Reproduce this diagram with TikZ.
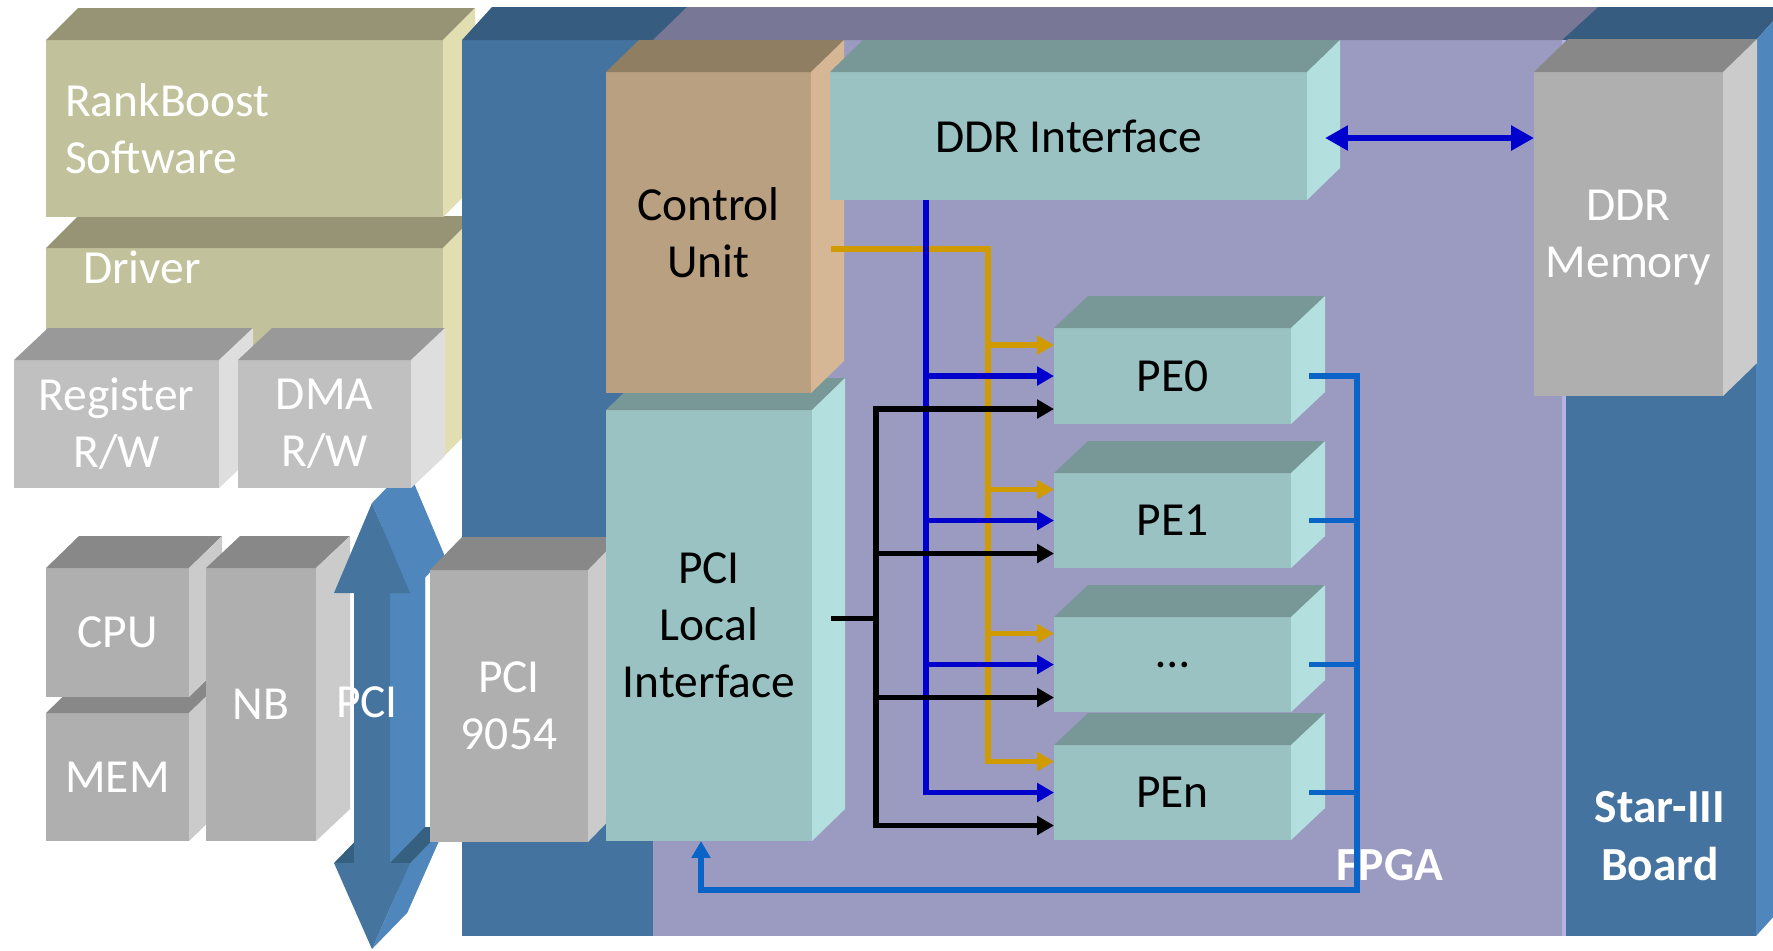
\documentclass[tikz,border=0pt]{standalone}
\usepackage{fontspec}
\setmainfont{Carlito}
\usetikzlibrary{calc,arrows.meta}

% face colours: F = front, T = top, S = side
\definecolor{oliveF}{HTML}{C1C19B}
\definecolor{oliveT}{HTML}{969474}
\definecolor{oliveS}{HTML}{E1DFB1}
\definecolor{regF}{HTML}{C0C0C0}
\definecolor{regT}{HTML}{999999}
\definecolor{regS}{HTML}{DEDEDE}
\definecolor{grayF}{HTML}{AFAFAF}
\definecolor{grayT}{HTML}{888888}
\definecolor{grayS}{HTML}{CBCBCB}
\definecolor{boardF}{HTML}{44739F}
\definecolor{boardT}{HTML}{365D7F}
\definecolor{boardS}{HTML}{4F86BB}
\definecolor{fpgaF}{HTML}{9B9BC2}
\definecolor{fpgaT}{HTML}{787896}
\definecolor{fpgaS}{HTML}{B4B4E4}
\definecolor{ctrlF}{HTML}{B9A080}
\definecolor{ctrlT}{HTML}{8F7E62}
\definecolor{ctrlS}{HTML}{D5B795}
\definecolor{tealF}{HTML}{9BC2C2}
\definecolor{tealT}{HTML}{789897}
\definecolor{tealS}{HTML}{B3DFDF}
\definecolor{busF}{HTML}{45749F}
\definecolor{busL}{HTML}{4F87BC}
\definecolor{busD}{HTML}{36607F}
\definecolor{ddrblue}{HTML}{0000CC}
\definecolor{ctrlgold}{HTML}{D09B00}
\definecolor{retblue}{HTML}{0A64C8}

% front face of a block, given by its corners (x0,y0) and (x1,y1)
\newcommand\facebox[6]{\node[#2, minimum width={(#5-#3)*0.01cm}, minimum height={(#6-#4)*0.01cm}] (#1) at ({(#3+#5)/2},{(#4+#6)/2})}
% top and right faces of a block, extruded by the depth vector #4
\newcommand\cubefaces[4]{%
  \fill[#2] (#1.north west) -- ++(#4) -- ($(#1.north east)+(#4)$) -- (#1.north east) -- cycle;
  \fill[#3] (#1.north east) -- ++(#4) -- ($(#1.south east)+(#4)$) -- (#1.south east) -- cycle;}

\begin{document}
\begin{tikzpicture}[x=0.01cm, y=-0.01cm,
  face/.style={rectangle, inner sep=0pt, outer sep=0pt, draw=none, align=center,
               font=\fontsize{13.5}{16.2}\selectfont},
  olivebox/.style={face, fill=oliveF, text=white},
  regbox/.style={face, fill=regF, text=white},
  graybox/.style={face, fill=grayF, text=white},
  tealbox/.style={face, fill=tealF, text=black},
  ctrlbox/.style={face, fill=ctrlF, text=black},
  boardbox/.style={face, fill=boardF},
  fpgabox/.style={face, fill=fpgaF},
  wlabel/.style={inner sep=0pt, outer sep=0pt, text=white, font=\fontsize{13.5}{16.2}\selectfont},
  boldlabel/.style={inner sep=0pt, outer sep=0pt, text=white, align=center,
                   font=\bfseries\fontsize{13.5}{16.5}\selectfont},
  wire/.style={line width=1.6pt},
  tip/.style={-{Triangle[length=4.8pt,width=5.2pt]}},
  ctrlwire/.style={wire, ctrlgold},
  ddrwire/.style={wire, ddrblue},
  pciwire/.style={wire, black},
  retwire/.style={wire, retblue},
]
\useasboundingbox (0,0) rectangle (1773,950);
\fill[white] (0,0) rectangle (1773,950);
\clip (0,0) rectangle (1773,950);

% ---------------- host software stack ----------------
\facebox{driver}{olivebox}{46}{248}{443}{457}{};
\cubefaces{driver}{oliveT}{oliveS}{32,-32}
\node[wlabel, anchor=base west] (drvlabel) at (83,283) {Driver};

\facebox{rank}{olivebox, text width={(397-38)*0.01cm}, align=left}{46}{40}{443}{217}{RankBoost\\Software};
\cubefaces{rank}{oliveT}{oliveS}{32,-32}

% ---------------- Star-III board and FPGA ----------------
\facebox{board}{boardbox}{462}{40}{1756}{936}{};
\cubefaces{board}{boardT}{boardS}{30,-33}
\facebox{fpga}{fpgabox}{653}{40}{1562}{936}{};
\fill[fpgaT] (fpga.north west) -- ++(34,-33) -- ($(fpga.north east)+(36,-33)$) -- (fpga.north east) -- cycle;
\fill[fpgaS] (fpga.north east) rectangle ($(fpga.south east)+(4,0)$);

% ---------------- host hardware ----------------
\facebox{mem}{graybox}{46}{713}{189}{841}{MEM};
\cubefaces{mem}{grayT}{grayS}{33,-32}
\facebox{cpu}{graybox}{46}{568}{189}{697}{CPU};
\cubefaces{cpu}{grayT}{grayS}{33,-32}
\facebox{nb}{graybox}{206}{568}{316}{841}{NB};
\cubefaces{nb}{grayT}{grayS}{34,-32}

% PCI bus: extruded double arrow
\begin{scope}[shift={(35,-36)}]
  \fill[busL] (372,503) -- (410,593) -- (390,593) -- (390,863) -- (410,863) -- (372,949)
        -- (334,863) -- (354,863) -- (354,593) -- (334,593) -- cycle;
\end{scope}
\fill[busL] (372,503) -- (410,593) -- (445,557) -- (407,467) -- cycle;
\fill[busL] (390,593) -- (390,863) -- (425,827) -- (425,557) -- cycle;
\fill[busL] (410,863) -- (372,949) -- (407,913) -- (445,827) -- cycle;
\fill[busD] (390,863) -- (410,863) -- (445,827) -- (425,827) -- cycle;
\fill[busD] (334,863) -- (354,863) -- (389,827) -- (369,827) -- cycle;
\fill[busF] (372,503) -- (410,593) -- (390,593) -- (390,863) -- (410,863) -- (372,949)
      -- (334,863) -- (354,863) -- (354,593) -- (334,593) -- cycle;
\node[wlabel, anchor=base] (pcilabel) at (367,717) {PCI};

\facebox{reg}{regbox}{14}{360}{219}{488}{Register\\R/W};
\cubefaces{reg}{regT}{regS}{34,-32}
\facebox{dma}{regbox}{238}{360}{411}{488}{DMA\\R/W};
\cubefaces{dma}{regT}{regS}{34,-32}

\facebox{plx}{graybox}{430}{570}{588}{842}{PCI\\9054};
\cubefaces{plx}{grayT}{grayS}{32,-33}

% ---------------- FPGA blocks ----------------
\facebox{pcil}{tealbox}{606}{410}{812}{841}{PCI\\Local\\Interface};
\cubefaces{pcil}{tealT}{tealS}{33,-32}
\facebox{ctrl}{ctrlbox}{606}{72}{811}{393}{Control\\Unit};
\cubefaces{ctrl}{ctrlT}{ctrlS}{33,-32}
\facebox{ddrif}{tealbox}{830}{72}{1307}{200}{DDR Interface};
\cubefaces{ddrif}{tealT}{tealS}{33,-32}

\facebox{pe0}{tealbox}{1054}{328}{1291}{424}{PE0};
\cubefaces{pe0}{tealT}{tealS}{34,-32}
\facebox{pe1}{tealbox}{1054}{473}{1291}{568}{PE1};
\cubefaces{pe1}{tealT}{tealS}{34,-32}
\facebox{pe2}{tealbox}{1054}{617}{1291}{712}{…};
\cubefaces{pe2}{tealT}{tealS}{34,-32}
\facebox{pen}{tealbox}{1054}{745}{1291}{840}{PEn};
\cubefaces{pen}{tealT}{tealS}{34,-32}

\facebox{ddrmem}{graybox, text depth=0pt}{1534}{72}{1723}{396}{DDR\\Memory};
\cubefaces{ddrmem}{grayT}{grayS}{34,-33}

\node[boldlabel, anchor=base] (fpgalabel) at (1390,880) {FPGA};
\node[boldlabel] (boardlabel) at (1660,836) {Star-III\\Board};

% ---------------- connections ----------------
\foreach \p in {pe0,pe1,pe2,pen} {
  \coordinate (\p g) at ($(\p.west)+(0,-31)$);
  \coordinate (\p k) at ($(\p.west)+(0,33)$);
}

% control unit -> PEs
\coordinate (gS) at ($(ctrl.east)+(20,16.5)$);
\coordinate (gX) at ($(gS)+(157,0)$);
\draw[ctrlwire, tip] (gS) -- (gX) |- (peng);
\foreach \p in {pe0,pe1,pe2} \draw[ctrlwire, tip] (gX |- \p g) -- (\p g);

% DDR interface -> PEs
\coordinate (bS) at ($(ddrif.south west)+(96,0)$);
\draw[ddrwire, tip] (bS) |- (pen.west);
\foreach \p in {pe0,pe1,pe2} \draw[ddrwire, tip] (bS |- \p.west) -- (\p.west);

% PCI local interface -> PEs
\coordinate (kS) at ($(pcil.east)+(19,-7)$);
\coordinate (kX) at ($(kS)+(45,0)$);
\draw[pciwire] (kS) -- (kX);
\draw[pciwire, tip] (kX |- penk) |- (pe0k);
\draw[pciwire, tip] (kX |- pe0k) |- (penk);
\foreach \p in {pe1,pe2} \draw[pciwire, tip] (kX |- \p k) -- (\p k);

% PE results back to the PCI local interface
\coordinate (rX) at ($(pe0.east)+(66,0)$);
\coordinate (rB) at ($(pcil.south)+(-8,49)$);
\draw[retwire, tip] ($(pe0.east)+(18,0)$) -- (rX) |- (rB) -- (rB |- pcil.south);
\foreach \p in {pe1,pe2,pen} \draw[retwire] ($(\p.east)+(18,0)$) -- (rX |- \p.east);

% DDR interface <-> DDR memory
\coordinate (dL) at ($(ddrif.east)+(18,2)$);
\draw[ddrwire, {Triangle[length=6.5pt,width=6.8pt]}-{Triangle[length=6.5pt,width=6.8pt]}]
  (dL) -- (dL -| ddrmem.west);
\end{tikzpicture}
\end{document}
